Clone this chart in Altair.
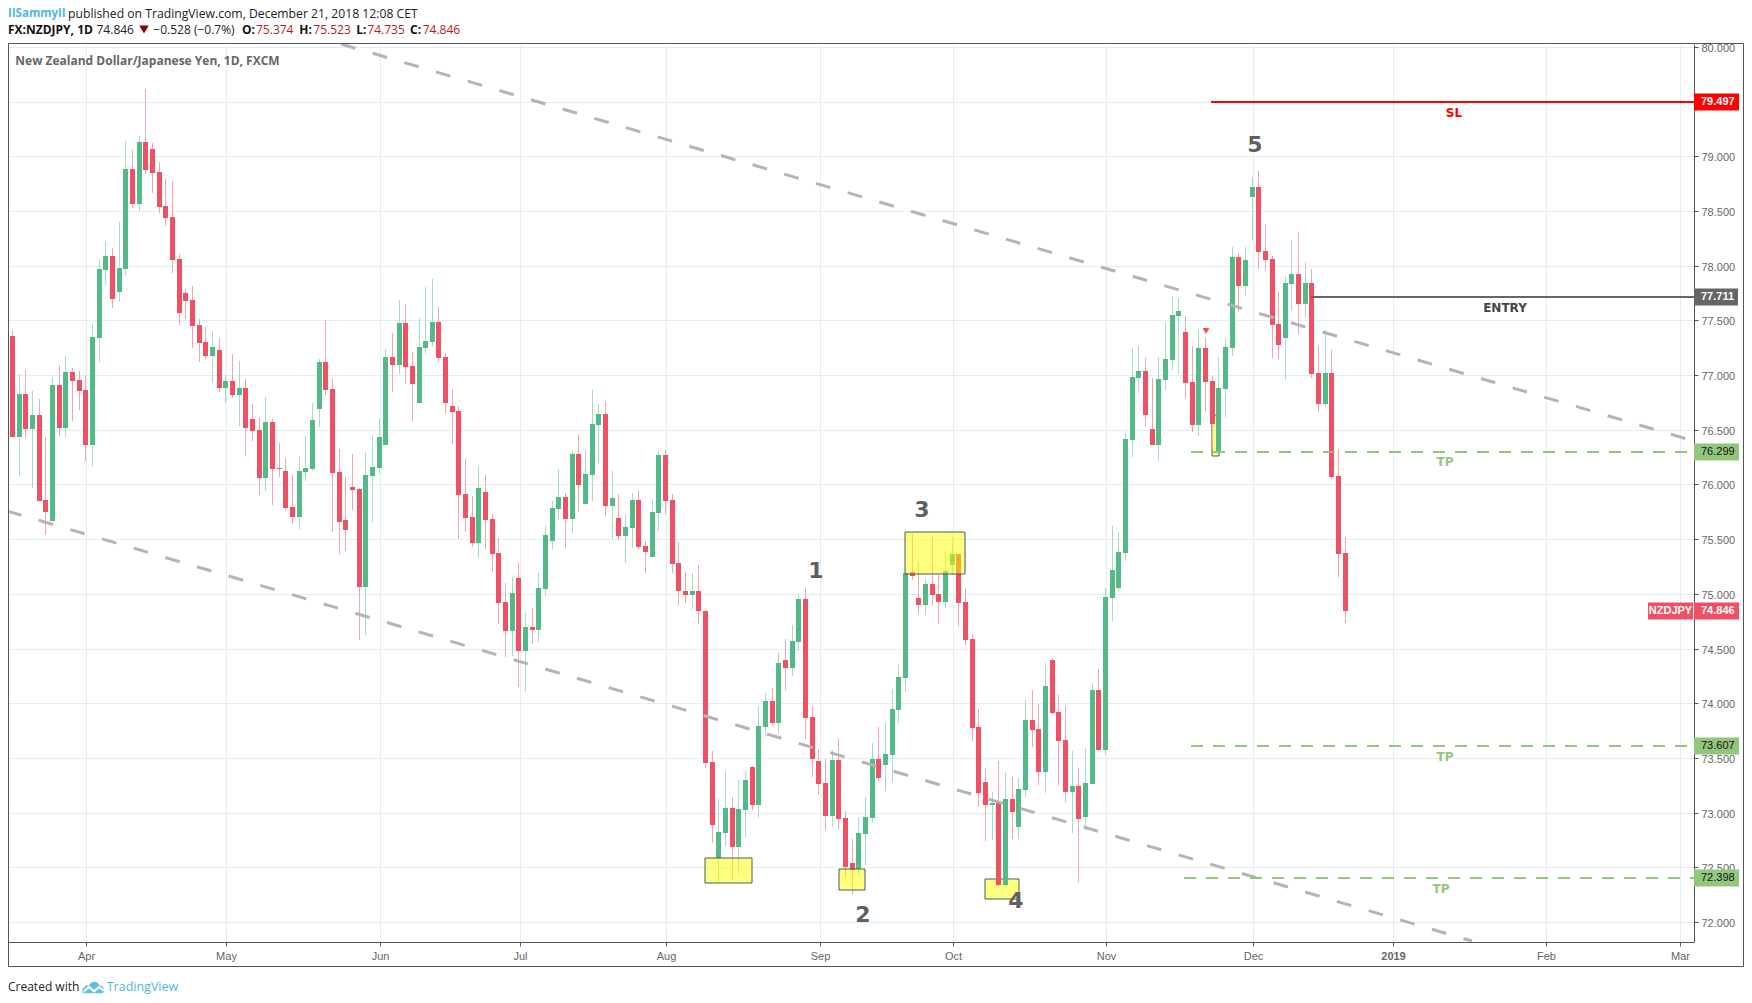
import altair as alt
import pandas as pd

opens = [77.359,76.436,76.829,76.509,76.637,75.859,75.667,76.911,76.518,77.030,76.957,76.865,76.362,77.341,77.963,78.091,77.762,77.972,78.887,78.567,79.134,79.070,78.859,78.548,78.448,78.064,77.753,77.689,77.460,77.305,77.176,77.231,76.884,76.948,76.820,76.884,76.600,76.500,76.061,76.573,76.152,76.125,75.795,75.704,76.115,76.143,76.692,77.122,76.875,76.115,
75.675,75.975,75.957,75.065,76.075,76.148,76.357,77.167,77.094,77.476,77.085,76.748,77.249,77.303,77.485,77.167,76.721,76.675,75.911,75.702,75.466,75.930,75.684,75.375,74.929,74.665,75.147,74.474,74.693,74.674,75.047,75.484,75.775,75.884,75.684,76.275,75.820,76.084,76.548,76.648,75.802,75.693,75.529,75.602,75.857,75.438,75.338,75.739,76.266,75.857,
75.284,75.029,74.993,75.029,74.845,73.463,72.582,72.814,73.043,72.686,73.024,73.418,73.070,73.784,74.021,73.820,74.396,74.323,74.561,74.954,73.875,73.473,73.271,72.970,73.482,72.951,72.540,72.482,72.805,72.951,73.491,73.436,73.527,73.939,74.232,75.204,74.964,74.900,75.092,75.000,74.927,75.265,75.366,74.927,74.589,73.784,73.281,73.070,73.088,72.338,
73.125,72.869,73.207,73.848,73.765,73.372,74.396,73.921,73.665,73.189,73.244,72.958,73.262,74.121,73.574,74.964,75.056,75.375,76.407,76.973,77.038,76.507,76.361,76.957,77.138,77.542,77.396,76.938,76.546,77.250,76.946,76.288,76.873,77.249,78.080,77.815,78.629,78.720,78.135,78.062,77.468,77.340,77.834,77.925,77.651,77.843,77.020,76.737,77.020,76.079,75.374]
highs = [77.414,77.012,77.048,76.856,76.783,76.436,76.984,77.094,77.176,77.067,77.039,77.003,77.469,78.064,78.228,78.164,78.402,79.143,79.061,79.189,79.619,79.125,78.951,78.795,78.777,78.109,77.789,77.817,77.515,77.442,77.405,77.341,77.003,77.195,77.131,76.966,76.737,76.618,76.801,76.600,76.381,76.243,76.088,76.262,76.445,76.747,77.149,77.506,76.975,76.326,
76.066,76.275,75.966,76.293,76.457,76.603,77.239,77.385,77.685,77.649,77.212,77.521,77.803,77.876,77.621,77.203,76.876,76.721,76.230,75.893,76.166,76.084,75.729,75.511,75.102,75.156,75.284,74.829,74.874,75.202,75.620,75.848,76.139,75.921,76.303,76.448,76.312,76.866,76.739,76.766,76.121,75.911,75.720,75.921,75.939,75.484,75.866,76.303,76.312,75.911,
75.475,75.202,75.193,75.266,74.854,73.564,73.125,73.381,73.143,73.299,73.381,73.427,73.976,74.095,74.140,74.470,74.589,74.717,74.991,75.055,73.976,73.582,73.491,73.573,73.674,73.015,72.759,72.960,73.143,73.637,73.784,73.820,74.131,74.360,75.220,75.549,75.293,75.137,75.540,75.174,75.384,75.522,75.366,75.055,74.634,73.948,73.409,73.189,73.473,73.372,
73.326,73.317,74.031,74.122,73.994,74.369,74.415,74.076,73.976,73.564,73.409,73.589,74.186,74.313,75.056,75.622,75.568,76.472,77.250,77.265,77.158,76.973,77.165,77.473,77.723,77.704,77.542,77.265,77.423,77.335,76.992,77.165,77.331,78.172,78.117,78.172,78.812,78.866,78.382,78.090,77.761,77.907,78.236,78.309,78.035,77.971,77.267,77.413,77.231,76.326,75.523]
lows = [76.436,76.079,76.426,75.969,75.850,75.539,75.667,76.445,76.436,76.582,76.682,76.216,76.170,77.122,77.826,77.616,77.670,77.908,78.530,78.503,78.841,78.667,78.484,78.366,77.936,77.460,77.515,77.250,77.122,77.149,76.929,76.847,76.747,76.792,76.536,76.262,76.399,75.905,75.942,75.814,76.070,75.768,75.640,75.594,76.033,76.125,76.527,76.811,75.567,75.365,
75.393,75.766,74.574,74.620,75.657,76.102,76.357,76.848,77.012,76.921,76.585,76.748,77.194,77.267,77.121,76.648,76.366,75.502,75.566,75.429,75.329,75.411,75.202,74.729,74.420,74.429,74.147,74.101,74.538,74.556,74.984,75.411,75.675,75.420,75.557,75.748,75.820,75.848,76.193,75.711,75.502,75.493,75.284,75.420,75.411,75.193,75.338,75.575,75.729,75.193,
74.902,74.920,74.865,74.720,73.409,72.723,72.354,72.695,72.375,72.439,72.777,73.024,72.951,73.692,73.793,73.729,74.122,74.250,74.479,73.674,73.326,73.162,72.841,72.878,72.851,72.402,72.259,72.421,72.521,72.905,73.290,73.198,73.281,73.820,74.104,75.128,74.817,74.808,74.900,74.726,74.872,75.174,74.707,74.534,73.656,73.061,72.741,72.750,72.329,72.320,
72.759,72.759,73.143,73.601,73.253,73.180,73.902,73.253,73.098,72.814,72.366,72.843,73.262,73.574,73.528,74.752,75.025,75.302,76.253,76.838,76.534,76.361,76.215,76.865,77.046,77.007,76.792,76.480,76.445,76.665,76.345,76.288,76.619,77.176,77.578,77.724,78.236,77.971,77.962,77.158,77.148,76.956,77.596,77.377,77.532,76.975,76.664,76.710,76.052,75.156,74.735]
closes = [76.436,76.829,76.509,76.637,75.850,75.750,76.911,76.518,77.030,76.948,76.856,76.362,77.350,77.972,78.091,77.698,77.981,78.887,78.567,79.134,78.878,78.850,78.539,78.439,78.055,77.570,77.680,77.451,77.295,77.176,77.259,76.884,76.948,76.820,76.884,76.518,76.490,76.061,76.573,76.143,76.143,75.786,75.704,76.125,76.152,76.591,77.122,76.865,76.106,75.658,
75.584,75.948,75.065,76.084,76.157,76.430,77.167,77.094,77.476,77.076,76.921,77.258,77.312,77.485,77.158,76.748,76.666,75.902,75.693,75.466,75.966,75.675,75.366,74.920,74.665,75.011,74.474,74.693,74.674,75.056,75.538,75.784,75.884,75.684,76.275,75.993,76.093,76.557,76.648,75.802,75.875,75.529,75.611,75.857,75.429,75.384,75.748,76.266,75.848,75.275,
75.029,74.993,75.029,74.847,73.454,72.887,72.823,73.043,72.686,73.034,73.299,73.070,73.793,74.021,73.820,74.369,74.323,74.570,74.954,73.866,73.491,73.262,72.970,73.482,72.942,72.503,72.476,72.814,72.960,73.491,73.317,73.537,73.948,74.241,75.189,75.165,74.900,75.092,74.991,74.927,75.211,75.366,74.918,74.579,73.774,73.180,73.070,73.088,72.338,73.125,
73.006,73.216,73.848,73.756,73.372,74.159,73.912,73.656,73.189,73.244,72.942,73.270,74.121,73.574,74.971,75.218,75.383,76.415,76.984,77.038,76.638,76.361,76.965,77.150,77.550,77.589,76.930,76.546,77.250,76.938,76.553,76.884,77.258,78.080,77.815,78.053,78.720,78.126,78.053,77.459,77.276,77.843,77.925,77.651,77.843,77.011,76.737,77.020,76.070,75.366,74.846]

month_labels = ["Apr","May","Jun","Jul","Aug","Sep","Oct","Nov","Dec","2019","Feb","Mar"]
month_pos = [11.10,32.11,55.22,76.23,98.14,121.25,141.21,164.17,186.22,207.23,230.19,250.30]
y_ticks = [72+0.5*k for k in range(17)]

upper_i = [49.3,251.3]; upper_p = [80.03,76.42]
lower_i = [-0.78,219.1]; lower_p = [75.76,71.83]

box_i = [103.96,124.07,133.97]; box_i2 = [111.0,127.97,142.97]
box_p = [72.582,72.482,75.564]; box_p2 = [72.354,72.289,75.180]
under_i = [146.03,180.04]; under_i2 = [151.08,181.15]
under_p = [72.390,76.637]; under_p2 = [72.207,76.265]

level_sl = 79.497; level_entry = 77.711; level_tp = [76.299,73.607,72.398]; last_price = 74.846
X_END = 252.4

digits = ["5","1","2","3","4"]
digit_i = [186.5,120.65,127.7,136.6,150.6]
digit_p = [79.100,75.210,72.068,75.766,72.196]

n = len(opens)
df = pd.DataFrame({"i":list(range(n)),"o":opens,"h":highs,"l":lows,"c":closes})

GREEN="#53b987"; RED="#ef5063"; GREEN_W="#a6dcc3"; RED_W="#f5a3ad"
AX="#555555"; GRID="#e3edf3"; TAG_G="#92c67d"; BLUE="#4db6e8"
xs = alt.Scale(domain=[-0.6002,252.4], nice=False, zero=False, round=True, padding=0)
ys = alt.Scale(domain=[71.817,80.0274], nice=False, zero=False, round=True, padding=0)

keys = ",".join(f"'{p}':'{m}'" for p,m in zip(month_pos,month_labels))
x_axis = alt.Axis(values=month_pos, title=None, orient="bottom", grid=True, gridColor=GRID, gridWidth=1,
    labelExpr="{"+keys+"}[datum.value]", labelFont="Liberation Sans", labelFontSize=11, labelColor="#666666",
    labelFontWeight=alt.expr(f"datum.value=={month_pos[9]}?'bold':'normal'"),
    tickSize=4, tickColor=AX, domainColor=AX, labelPadding=4, labelOverlap=False, labelFlush=False)
y_axis = alt.Axis(values=y_ticks, title=None, orient="right", grid=True, gridColor=GRID, gridWidth=1, format=".3f",
    labelFont="Liberation Sans", labelFontSize=11, labelColor="#666666", labelOffset=1,
    tickSize=4, tickColor=AX, domainColor=AX, labelPadding=3, labelOverlap=False, labelFlush=False)

X = lambda f="i": alt.X(f"{f}:Q", scale=xs, axis=x_axis)
Y = lambda f: alt.Y(f"{f}:Q", scale=ys, axis=y_axis)
layers = []

def boxes(a,b,c,d):
    t = pd.DataFrame({"i":a,"i2":b,"p":c,"p2":d})
    return alt.Chart(t).mark_rect(fill="#ffff00", fillOpacity=0.5, stroke="#455a64", strokeWidth=1).encode(
        x=X(), x2="i2:Q", y=Y("p"), y2="p2:Q")

layers.append(boxes(under_i,under_i2,under_p,under_p2))
is_up = "datum.c>=datum.o"
layers.append(alt.Chart(df).mark_rule(strokeWidth=1, xOffset=0.5).encode(
    x=X(), y=Y("h"), y2="l:Q", color=alt.condition(is_up, alt.value(GREEN_W), alt.value(RED_W))))
layers.append(alt.Chart(df).mark_bar(size=5, xOffset=0.5).encode(
    x=X(), y=Y("o"), y2="c:Q", color=alt.condition(is_up, alt.value(GREEN), alt.value(RED))))
layers.append(boxes(box_i,box_i2,box_p,box_p2))

for a,b in ((upper_i,upper_p),(lower_i,lower_p)):
    t = pd.DataFrame({"i":a,"p":b})
    layers.append(alt.Chart(t).mark_line(color="#b4b4b4", strokeWidth=3, strokeDash=[15,18], clip=True).encode(
        x=X(), y=Y("p")))

def hline(start, level, color, width, dash=None):
    t = pd.DataFrame({"i":[start],"i2":[X_END],"p":[level]})
    kw = {"strokeDash":dash} if dash else {}
    return alt.Chart(t).mark_rule(color=color, strokeWidth=width, **kw).encode(x=X(), x2="i2:Q", y=Y("p"))
layers.append(hline(179.9, level_sl, "#ff0000", 2))
layers.append(hline(195.0, level_entry, "#666666", 2))
for start,lv in zip([176.9,176.9,175.9], level_tp):
    layers.append(hline(start, lv, TAG_G, 2, [12,10]))

def note(txt, i, p, color, size, font="DejaVu Sans"):
    t = pd.DataFrame({"i":[i],"p":[p],"t":[txt]})
    return alt.Chart(t).mark_text(font=font, fontWeight="bold", fontSize=size, color=color, baseline="middle").encode(
        x=X(), y=Y("p"), text="t:N")
for d,i,p in zip(digits,digit_i,digit_p):
    layers.append(note(d,i,p,"#5f5f5f",22))
layers.append(note("SL",216.4,79.400,"#ff0000",12))
layers.append(note("ENTRY",224.0,77.618,"#444444",12))
layers.append(note("TP",215.1,76.205,TAG_G,12))
layers.append(note("TP",215.1,73.509,TAG_G,12))
layers.append(note("TP",214.5,72.306,TAG_G,12))

t = pd.DataFrame({"i":[179.1],"p":[77.406]})
layers.append(alt.Chart(t).mark_point(shape="triangle-down", filled=True, color="#ef5350", size=45, opacity=1).encode(x=X(), y=Y("p")))

def tag(level, x0, x1, fill, txt_color, weight, label):
    t = pd.DataFrame({"p":[level],"t":[label]})
    r = alt.Chart(t).mark_rect(height=17, fill=fill).encode(x=alt.value(x0), x2=alt.value(x1), y=Y("p"))
    s = alt.Chart(t).mark_text(font="Liberation Sans", fontSize=11, fontWeight=weight, color=txt_color, align="left", baseline="middle").encode(
        x=alt.value(1693), y=Y("p"), text="t:N")
    return [r,s]
layers += tag(level_sl,1686,1731,"#ff0000","#ffffff","bold","79.497")
layers += tag(level_entry,1686,1730,"#666666","#ffffff","bold","77.711")
for lv in level_tp:
    layers += tag(lv,1686,1731,TAG_G,"#111111","normal",f"{lv:.3f}")
layers += tag(last_price,1686,1731,RED,"#ffffff","bold","74.846")
t = pd.DataFrame({"p":[last_price],"t":["NZDJPY"]})
layers.append(alt.Chart(t).mark_rect(height=17, fill=RED).encode(x=alt.value(1640), x2=alt.value(1685), y=Y("p")))
layers.append(alt.Chart(t).mark_text(font="Liberation Sans", fontSize=11, fontWeight="bold", color="#ffffff", align="center", baseline="middle").encode(
    x=alt.value(1662.5), y=Y("p"), text="t:N"))

# outer frame
f = alt.Chart(pd.DataFrame({"a":[0]})).mark_rect(fill="transparent", stroke="#555555", strokeWidth=1).encode(
    x=alt.value(0.5), x2=alt.value(1735.5), y=alt.value(-0.5), y2=alt.value(922.5))
layers.append(f)

OS="Open Sans"
DARK="#111111"; VAL="#b71c1c"
texts = [
 ("IISammyII",8,13.5,BLUE,"bold",OS,11.5),
 ("published on TradingView.com, December 21, 2018 12:08 CET",68,13.5,"#222222","normal",OS,12.2),
 ("FX:NZDJPY, 1D",8,29.5,DARK,"bold",OS,12),
 ("74.846",96.5,29.5,"#222222","normal",OS,12),
 ("\u22120.528 (\u22120.7%)",153.3,29.5,"#222222","normal",OS,12),
 ("O:",242,29.5,DARK,"bold",OS,12),("75.374",256,29.5,VAL,"normal",OS,12),
 ("H:",299.3,29.5,DARK,"bold",OS,12),("75.523",313.3,29.5,VAL,"normal",OS,12),
 ("L:",356.3,29.5,DARK,"bold",OS,12),("74.735",367.3,29.5,VAL,"normal",OS,12),
 ("C:",410,29.5,DARK,"bold",OS,12),("74.846",422.7,29.5,VAL,"normal",OS,12),
 ("New Zealand Dollar/Japanese Yen, 1D, FXCM",15.3,60.5,"#666666","bold",OS,12),
 ("Created with",8,987,"#222222","normal",OS,12),
 ("TradingView",106.7,987,BLUE,"normal",OS,12.5),
]
one = pd.DataFrame({"a":[0]})
for txt,x,y,col,wt,fn,sz in texts:
    layers.append(alt.Chart(one).mark_text(text=txt,font=fn,fontSize=sz,fontWeight=wt,color=col,align="left",baseline="middle").encode(
        x=alt.value(x-8), y=alt.value(y-44)))
layers.append(alt.Chart(one).mark_point(shape="triangle-down",filled=True,color="#8b0000",size=90,opacity=1).encode(
    x=alt.value(136), y=alt.value(-14.5)))
cloud = "M-0.75,0.55 C-1.05,0.55 -1.05,0.1 -0.8,0.05 C-0.75,-0.15 -0.5,-0.2 -0.4,-0.1 C-0.25,-0.55 0.35,-0.6 0.5,-0.15 C0.95,-0.2 1.1,0.55 0.7,0.55 Z"
wave = "M-0.85,0.4 L-0.4,-0.02 L0.05,0.38 L0.5,-0.02 L0.9,0.32"
layers.append(alt.Chart(one).mark_point(shape=cloud,filled=True,color="#5cc0ea",size=529,opacity=1).encode(x=alt.value(85.5), y=alt.value(943)))
layers.append(alt.Chart(one).mark_point(shape=wave,filled=False,color="#ffffff",size=529,strokeWidth=2,opacity=1).encode(x=alt.value(85.5), y=alt.value(943)))

chart = alt.layer(*layers).properties(width=1686, height=898,
    autosize=alt.AutoSizeParams(type="none"),
    padding={"left":0,"top":36,"right":50,"bottom":53},
    background="#ffffff").configure_view(strokeWidth=0)
chart.save("out.html", embed_options={"renderer":"svg","actions":False})
